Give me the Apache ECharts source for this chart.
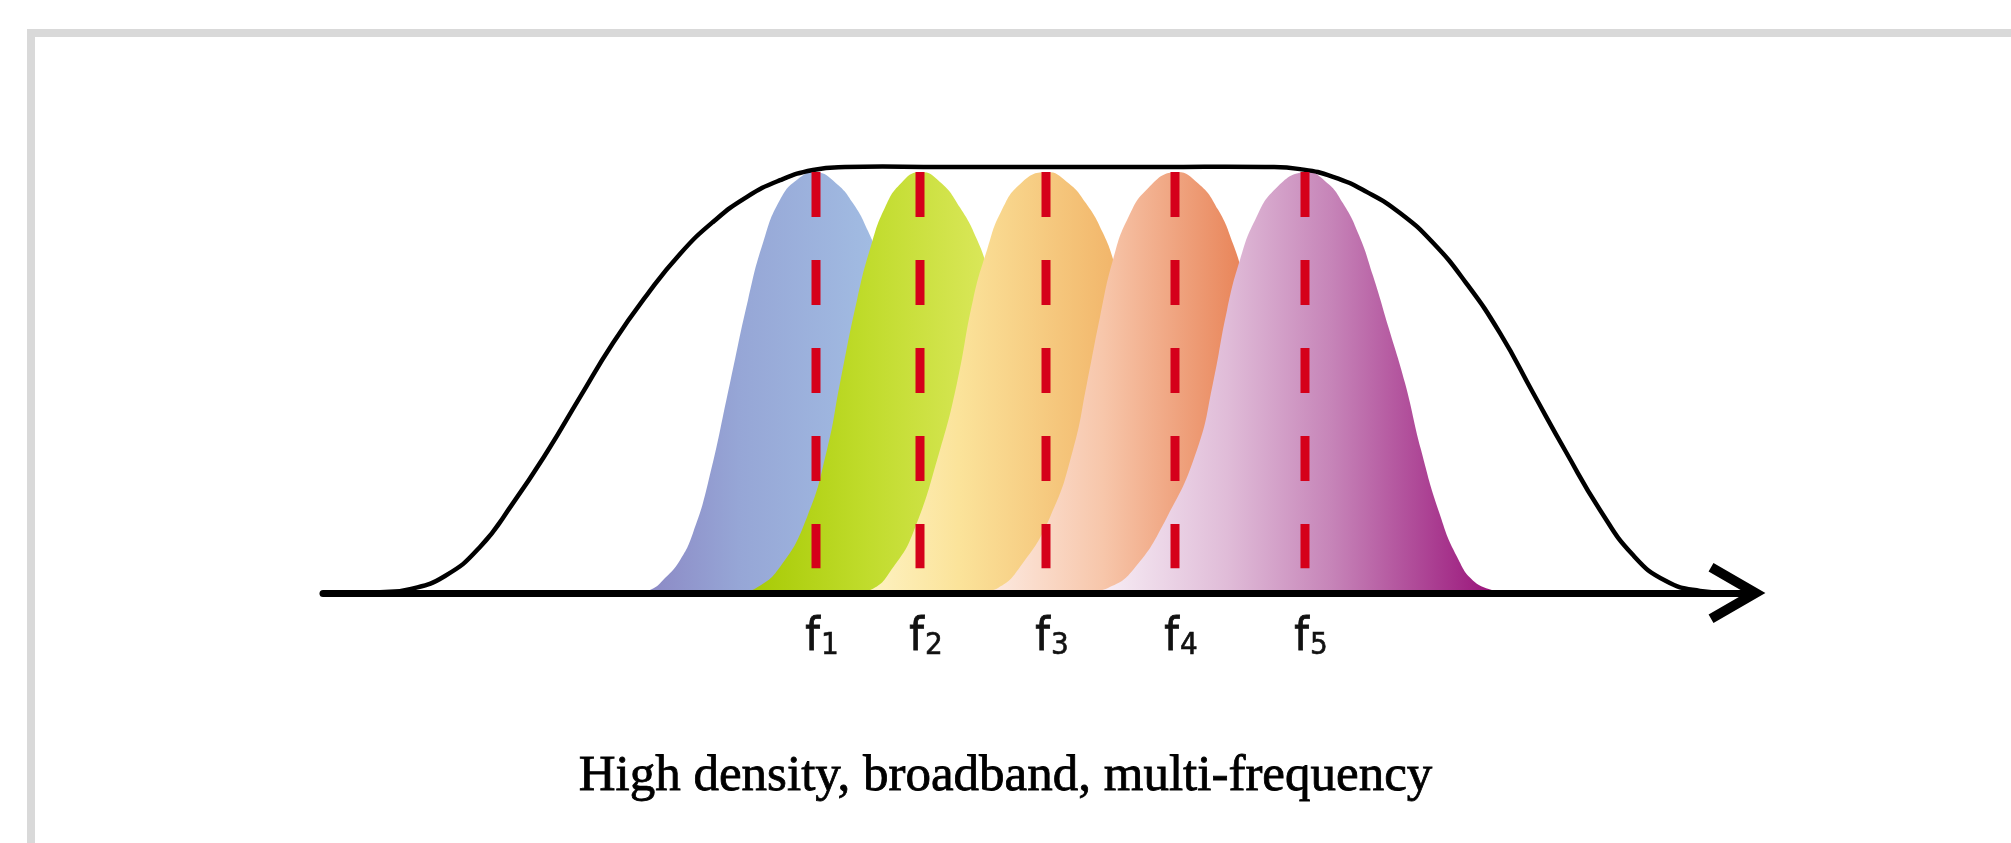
<!DOCTYPE html>
<html>
<head>
<meta charset="utf-8">
<script src="https://cdn.jsdelivr.net/npm/echarts@6/dist/echarts.min.js"></script>
<style>
html,body{margin:0;padding:0;background:#fff;}
#chart{width:2011px;height:843px;}
</style>
</head>
<body>
<div id="chart"></div>
<script>
// ---- data (frequency in arbitrary units, amplitude normalised) ----
const peakFreqs = [49.3, 59.7, 72.3, 85.2, 98.2];
const bandSubscripts = ['1', '2', '3', '4', '5'];
const captionText = 'High density, broadband, multi-frequency';

const envelope = [[0.7,0],[5.7,0.002],[8.7,0.009],[12.2,0.040],[15.7,0.108],[19.0,0.211],[22.4,0.331],[25.7,0.460],[29.0,0.587],[32.4,0.700],[35.7,0.796],[39.0,0.871],[42.4,0.930],[45.7,0.969],[49.0,0.993],[52.2,1.0],[62.0,1.0],[73.0,1.0],[84.0,1.0],[94.2,1.0],[97.7,0.995],[101.0,0.977],[104.4,0.941],[107.7,0.892],[111.0,0.822],[114.3,0.728],[117.7,0.610],[121.0,0.470],[124.3,0.331],[127.7,0.195],[131.0,0.089],[134.3,0.028],[137.7,0.005],[142.2,0]];

const band1 = [[31.0,0],[32.8,0.008],[34.2,0.035],[35.7,0.077],[37.0,0.141],[38.5,0.258],[40.7,0.493],[42.5,0.688],[44.0,0.822],[45.7,0.923],[47.5,0.972],[49.3,0.988],[51.3,0.962],[53.0,0.915],[54.5,0.850],[55.7,0.777],[56.8,0.688],[58.2,0.493],[59.7,0.296],[61.2,0.148],[63.0,0.050],[64.8,0.010],[66.5,0]];
const band2 = [[41.5,0],[43.2,0.010],[45.7,0.061],[48.4,0.178],[50.4,0.336],[51.7,0.493],[53.4,0.688],[54.8,0.815],[56.2,0.905],[57.8,0.962],[59.7,0.988],[61.7,0.965],[63.7,0.905],[65.4,0.830],[66.6,0.750],[67.6,0.660],[68.8,0.493],[70.2,0.296],[71.7,0.148],[73.5,0.050],[75.3,0.010],[77.0,0]];
const band3 = [[52.5,0],[55.0,0.010],[57.0,0.060],[59.0,0.141],[61.7,0.336],[63.4,0.493],[65.0,0.688],[66.4,0.805],[67.8,0.895],[69.8,0.962],[72.3,0.988],[74.4,0.965],[76.3,0.915],[78.0,0.845],[79.2,0.770],[80.3,0.680],[81.5,0.493],[82.9,0.296],[84.5,0.148],[86.3,0.050],[88.1,0.010],[89.8,0]];
const band4 = [[65.0,0],[67.5,0.012],[69.7,0.061],[72.7,0.178],[75.0,0.336],[76.4,0.493],[77.7,0.648],[79.0,0.782],[80.5,0.880],[82.5,0.950],[85.2,0.988],[87.5,0.962],[89.5,0.900],[91.0,0.820],[92.2,0.730],[93.1,0.650],[94.3,0.493],[95.7,0.296],[97.3,0.148],[99.1,0.050],[100.9,0.010],[102.6,0]];
const band5 = [[76.0,0],[78.5,0.012],[81.0,0.054],[84.4,0.178],[87.4,0.336],[89.0,0.493],[90.4,0.664],[91.7,0.782],[93.2,0.875],[95.3,0.950],[98.2,0.988],[100.3,0.965],[102.0,0.915],[103.6,0.840],[105.0,0.745],[106.6,0.620],[108.2,0.493],[109.8,0.336],[111.6,0.190],[113.4,0.085],[115.2,0.025],[117.4,0]];
const markerRange = [0.988, 0.058];

// ---- styles ----
const bands = [band1, band2, band3, band4, band5];
const bandGradients = [
  [[0,'#8a84c2'],[0.3,'#96a6d6'],[0.7,'#a2bde3'],[1,'#a8c4e8']],
  [[0,'#a4c800'],[0.35,'#bfdb2a'],[0.7,'#dae75a'],[1,'#e0ea66']],
  [[0,'#fef6cc'],[0.3,'#fbe39a'],[0.7,'#f2b76c'],[1,'#eea858']],
  [[0,'#fdf0ea'],[0.35,'#f7c6aa'],[0.7,'#e9875c'],[1,'#e47a4e']],
  [[0,'#fbf6fa'],[0.35,'#e0bcd8'],[0.6,'#c684b8'],[1,'#981078']]
];
const SMOOTH = 0.5;

// smooth curve drawn through the chart's own coordinate system
function curveSeries(data, shapeType, style, z) {
  return {
    type: 'custom', data: data, z: z, silent: true, clip: false,
    encode: { x: 0, y: 1 },
    renderItem: function (params, api) {
      if (params.dataIndexInside !== 0) return null;
      const pts = [];
      for (let k = 0; k < params.dataInsideLength; k++) {
        pts.push(api.coord([api.value(0, k), api.value(1, k)]));
      }
      return { type: shapeType, shape: { points: pts, smooth: SMOOTH }, style: style };
    }
  };
}

const series = [];
bands.forEach(function (b, i) {
  const grad = new echarts.graphic.LinearGradient(0, 0, 1, 0,
    bandGradients[i].map(function (s) { return { offset: s[0], color: s[1] }; }));
  series.push(curveSeries(b, 'polygon', { fill: grad, stroke: null }, 2 + i * 0.01));
});
series.push(curveSeries(envelope, 'polyline', { fill: null, stroke: '#000', lineWidth: 4.5 }, 4));
peakFreqs.forEach(function (f) {
  series.push({
    type: 'line', data: [[f, markerRange[0]], [f, markerRange[1]]], showSymbol: false, silent: true,
    lineStyle: { color: '#d5001a', width: 9, type: [45, 43], cap: 'butt' }, z: 5
  });
});

const chart = echarts.init(document.getElementById('chart'), null, { renderer: 'canvas' });
chart.setOption({
  animation: false,
  backgroundColor: '#fff',
  title: {
    text: captionText, left: 'center', top: 746,
    textStyle: { fontFamily: '"Liberation Serif", "Times New Roman", serif', fontSize: 51, fontWeight: 'normal', color: '#000', textBorderColor: '#000', textBorderWidth: 0.8 }
  },
  graphic: [
    { type: 'rect', shape: { x: 27, y: 29, width: 1990, height: 8 }, style: { fill: '#d9d9d9' }, silent: true },
    { type: 'rect', shape: { x: 27, y: 29, width: 8, height: 820 }, style: { fill: '#d9d9d9' }, silent: true }
  ],
  grid: { left: 323, right: 256, top: 167, bottom: 250 },
  xAxis: {
    type: 'value', min: 0, max: 143.2, z: 10,
    axisLine: {
      show: true, onZero: false,
      lineStyle: { color: '#000', width: 7 },
      symbol: ['none', 'path://M27.5,0L55,47.6L47.2,52.1L27.5,18L7.8,52.1L0,47.6Z'],
      symbolSize: [60, 57], symbolOffset: [0, -18]
    },
    axisTick: { show: false },
    splitLine: { show: false },
    axisLabel: {
      customValues: peakFreqs,
      margin: 22,
      padding: [0, 0, 0, 12],
      formatter: function (v) {
        const i = peakFreqs.indexOf(v);
        return '{f|f}{s|' + (i >= 0 ? bandSubscripts[i] : '') + '}';
      },
      rich: {
        f: { fontFamily: '"Liberation Sans Narrow", "DejaVu Sans Condensed", sans-serif', fontSize: 46, color: '#111', verticalAlign: 'bottom', lineHeight: 46, textBorderColor: '#111', textBorderWidth: 0.8 },
        s: { fontFamily: '"Liberation Sans Narrow", "DejaVu Sans Condensed", sans-serif', fontSize: 31, color: '#111', verticalAlign: 'bottom', lineHeight: 46, padding: [0, 0, 0, 1], textBorderColor: '#111', textBorderWidth: 0.6 }
      }
    }
  },
  yAxis: { type: 'value', min: 0, max: 1, show: false },
  series: series
});
</script>
</body>
</html>
